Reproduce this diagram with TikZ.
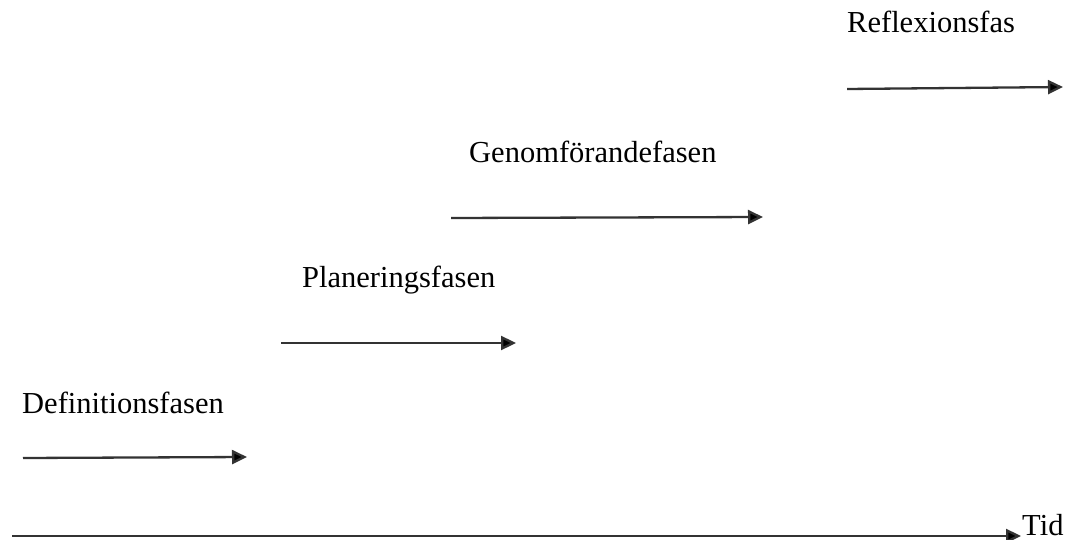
\documentclass[tikz,border=0pt]{standalone}
\usepackage{fontspec}
\setmainfont{Liberation Serif}
\usetikzlibrary{arrows.meta}
\begin{document}
\begin{tikzpicture}[x=1pt,y=-1pt,
  phase/.style={anchor=base west,inner sep=0pt,font=\fontsize{30.5}{35}\selectfont,text=black},
  arr/.style={line width=2.3pt,draw=black!80,-{Triangle[length=15pt,width=14pt,fill=black]}}]
\useasboundingbox (0,0) rectangle (1067,540);
\node[phase] (def) at (22,413) {Definitionsfasen};
\node[phase] (plan) at (302,287) {Planeringsfasen};
\node[phase] (gen) at (469,163) {Genomförandefasen};
\node[phase] (ref) at (847,33) {Reflexionsfas};
\node[phase] (tid) at (1022,535) {Tid};
\coordinate (d0) at (23,458); \coordinate (d1) at (247,457);
\coordinate (p0) at (281,343); \coordinate (p1) at (516,343);
\coordinate (g0) at (451,218); \coordinate (g1) at (763,217);
\coordinate (r0) at (847,89); \coordinate (r1) at (1063,87);
\coordinate (t0) at (12,536);
\draw[arr] (d0) -- (d1);
\draw[arr] (p0) -- (p1);
\draw[arr] (g0) -- (g1);
\draw[arr] (r0) -- (r1);
\draw[arr] (t0) -- ([xshift=-1pt]t0 -| tid.west);
\end{tikzpicture}
\end{document}
